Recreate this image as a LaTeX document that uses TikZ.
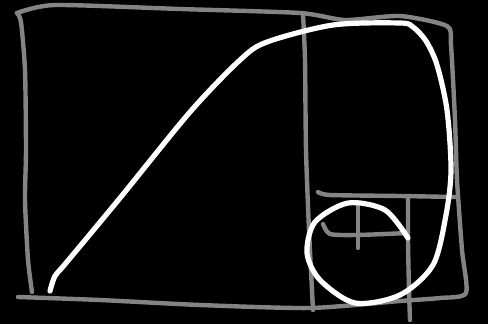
\documentclass[tikz,border=0pt]{standalone}
\usepackage{tikz}
\definecolor{chalkgray}{RGB}{132,132,132}
\definecolor{boardblack}{RGB}{0,0,0}

\begin{document}
\begin{tikzpicture}[x=1pt,y=-1pt,
    frameline/.style={draw=chalkgray,line width=4.4pt,line cap=round,line join=round},
    spiralline/.style={draw=white,line width=5.2pt,line cap=round,line join=round}]
    \fill[boardblack] (0,0) rectangle (488,324);
    \useasboundingbox (0,0) rectangle (488,324);

    % outer golden rectangle
    \draw[frameline] plot[smooth,tension=0.4] coordinates {
      (17,13) (55,5) (180,9) (300,13) (345,20) (400,16) (447,26)
      (451,45) (455,120) (457,180) (462,250) (466,293) (440,298)
      (400,301) (310,308) (200,305) (100,300) (18,297)};
    \draw[frameline] plot[smooth,tension=0.4] coordinates {
      (17,13) (21,22) (25,70) (26,150) (25,200) (28,260) (32,292)};

    % first square divider
    \draw[frameline] plot[smooth,tension=0.4] coordinates {
      (303,14) (305,60) (306,150) (309,230) (313,310)};

    % smaller squares
    \draw[frameline] plot[smooth,tension=0.4] coordinates {
      (318,192) (330,195) (400,196) (455,197)};
    \draw[frameline] plot[smooth,tension=0.4] coordinates {
      (408,196) (408,240) (409,290) (410,320)};
    \draw[frameline] plot[smooth,tension=0.4] coordinates {
      (323,224) (330,234) (357,235) (408,233)};
    \draw[frameline] plot[smooth,tension=0.4] coordinates {
      (358,205) (358,230) (358,248)};

    % spiral
    \draw[spiralline] plot[smooth,tension=0.5] coordinates {
      (50,291) (55,276) (66,263) (120,198) (190,112) (240,60) (267,42)
      (333,25) (400,23) (413,27) (426,41) (437,65) (447,110) (451,170)
      (446,215) (433,265) (400,295) (355,303) (320,280) (307,253)
      (315,222) (348,203) (385,210) (408,238)};
  \end{tikzpicture}
\end{document}
